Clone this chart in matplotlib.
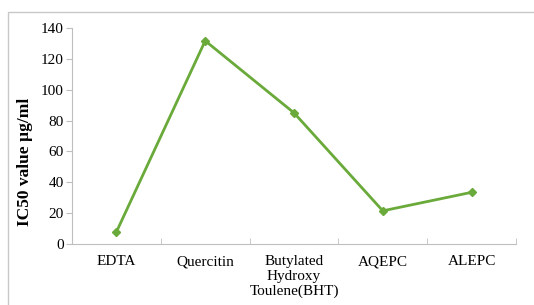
import matplotlib
matplotlib.use('Agg')
import matplotlib.pyplot as plt
from matplotlib.patches import Rectangle

plt.rcParams['font.family'] = ['Liberation Serif', 'DejaVu Serif']

# данные графика
categories = ['EDTA', 'Quercitin', 'Butylated\nHydroxy\nToulene(BHT)', 'AQEPC', 'ALEPC']
ic50 = [7.8, 131.7, 85.0, 21.5, 33.5]
yticks = [0, 20, 40, 60, 80, 100, 120, 140]

W, H = 534, 305
fig = plt.figure(figsize=(W / 100, H / 100), dpi=100)
ax = fig.add_axes([72 / W, 1 - 244 / H, (516 - 72) / W, (244 - 28) / H])

# рамка вокруг всей диаграммы (видны только верх и левый край)
fig.patches.append(Rectangle((8 / W, -0.1), 1.2, 1 - 12 / H + 0.1, transform=fig.transFigure,
                             fill=False, edgecolor='#c8c8c8', linewidth=1.0))

x = list(range(len(categories)))
ax.plot(x, ic50, color='#6aaa3a', linewidth=2.0, marker='D', markersize=4.5,
        markerfacecolor='#6aaa3a', markeredgecolor='#6aaa3a')

ax.set_xlim(-0.5, len(categories) - 0.5)
ax.set_ylim(0, 140)
ax.set_yticks(yticks)
ax.set_xticks(x)
ax.set_xticklabels(categories, fontsize=11, linespacing=1.15)
ax.set_xticks([i - 0.5 for i in range(len(categories) + 1)], minor=True)
ax.tick_params(axis='x', which='major', length=0, pad=8)
ax.tick_params(axis='x', which='minor', length=4, color='#bfbfbf', direction='in')
ax.tick_params(axis='y', length=4, color='#bfbfbf', labelsize=11, pad=2)

for s in ['top', 'right']:
    ax.spines[s].set_visible(False)
for s in ['left', 'bottom']:
    ax.spines[s].set_color('#bfbfbf')

ax.set_ylabel('IC50 value µg/ml', fontsize=12.5, fontweight='bold')
ax.yaxis.set_label_coords(-39 / (516 - 72), 1 - (162 - 28) / (244 - 28))

fig.savefig('out.png', dpi=100)
